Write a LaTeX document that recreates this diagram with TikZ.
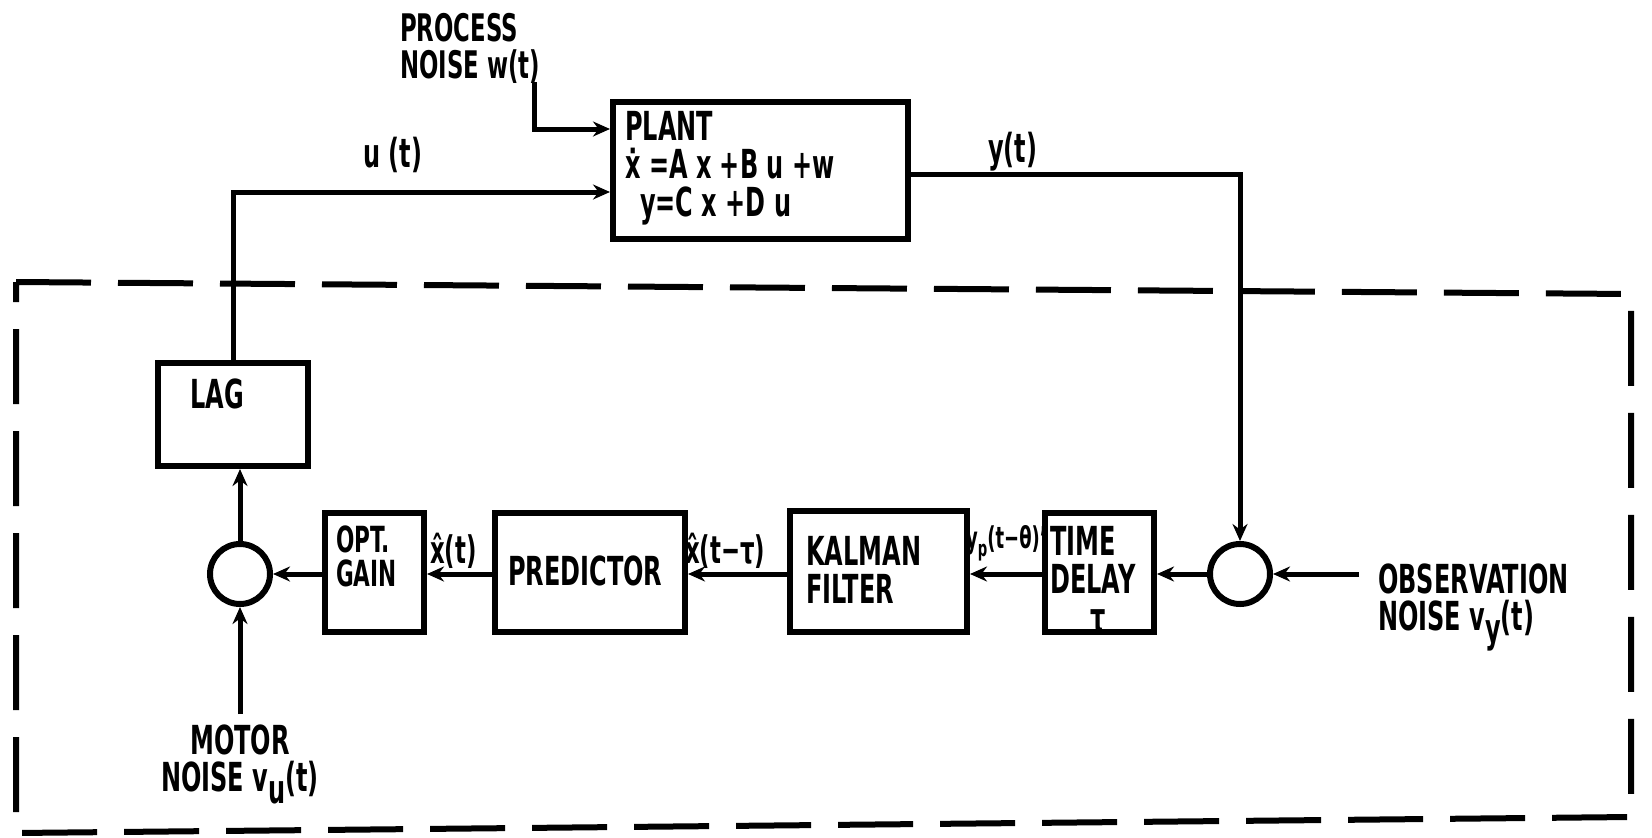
\documentclass[tikz,border=0pt]{standalone}
\usepackage{fontspec}
\setmainfont{DejaVu Sans}[FakeStretch=0.6]
\usetikzlibrary{arrows.meta}
\begin{document}
\begin{tikzpicture}[x=1pt,y=-1pt,
  blk/.style={draw,line width=6pt,inner sep=0pt},
  lbl/.style={font=\fontsize{40}{37}\selectfont\bfseries,inner sep=0pt,align=left},
  slbl/.style={font=\fontsize{38}{38}\selectfont\bfseries,inner sep=0pt},
  sig/.style={line width=5pt},
  arr/.style={sig,-{Stealth[length=17pt,width=15pt]}},
  sumc/.style={draw,circle,line width=6pt,minimum size=60pt,inner sep=0pt}]
\useasboundingbox (0,0) rectangle (1652,838);

% frame
\draw[line width=6pt,dash pattern=on 75pt off 27pt] (16,282) -- (1631,294) -- (1631,817) -- (16,833) -- cycle;

% blocks
\node[blk,minimum width=295pt,minimum height=137pt] (plant) at (760.5,170.5) {};
\node[blk,minimum width=150pt,minimum height=103pt] (lag) at (233,414.5) {};
\node[blk,minimum width=99pt,minimum height=119pt] (opt) at (374.5,572.5) {};
\node[blk,minimum width=190pt,minimum height=119pt] (pred) at (590,572.5) {};
\node[blk,minimum width=177pt,minimum height=121pt] (kal) at (878.5,571.5) {};
\node[blk,minimum width=109pt,minimum height=119pt] (td) at (1099.5,572.5) {};
\node[sumc] (cL) at (240,574) {};
\node[sumc] (cR) at (1240,574) {};

% texts
\node[lbl,anchor=north west,font=\fontsize{38}{37}\selectfont\bfseries] (tproc) at (400,13) {PROCESS\\NOISE w(t)};
\node[lbl,anchor=north west,font=\fontsize{40}{38}\selectfont\bfseries] (tplant) at (625,111) {PLANT\\\.{x} =A x +B u +w\\\ \,y=C x +D u};
\node[lbl,anchor=north west] (tu) at (363,137) {u (t)};
\node[lbl,anchor=north west] (ty) at (988,132) {y(t)};
\node[lbl,anchor=north west] (tlag) at (190,379) {LAG};
\node[lbl,anchor=north west,font=\fontsize{36}{34}\selectfont\bfseries] (topt) at (336,526) {OPT.\\GAIN};
\node[lbl,anchor=north west] (tpred) at (508,556) {PREDICTOR};
\node[lbl,anchor=north west,font=\fontsize{40}{38}\selectfont\bfseries] (tkal) at (806,536) {KALMAN\\FILTER};
\node[lbl,anchor=north west,font=\fontsize{40}{38}\selectfont\bfseries] (ttd) at (1050,526) {TIME\\DELAY\\\hspace{40pt}τ};
\node[lbl,anchor=north west] (tobs) at (1378,564) {OBSERVATION\\NOISE v\raisebox{-12pt}{y}(t)};
\node[lbl,anchor=north,align=center] (tmot) at (240,725) {MOTOR\\NOISE v\raisebox{-12pt}{u}(t)};
\node[slbl,anchor=base west] (txh) at (430,563) {\^{x}(t)};
\node[slbl,anchor=base west] (txd) at (685,563) {\^{x}(t−τ)};
\node[slbl,anchor=base west,font=\fontsize{30}{30}\selectfont\bfseries] (typ) at (966,548) {y\raisebox{-8pt}{\fontsize{22}{22}\selectfont p}(t−θ)'};

% connectors
\coordinate (wst) at (534,82);
\coordinate (wy) at (0,129);
\coordinate (uy) at (0,192);
\coordinate (yy) at (0,174);
\coordinate (obs) at (1359,574);
\coordinate (mot) at (240,714);
\draw[arr] (wst) |- (plant.west |- wy);
\draw[arr] (lag.north) |- (plant.west |- uy);
\draw[arr] (plant.east |- yy) -| (cR.north);
\draw[arr] (obs) -- (cR.east);
\draw[arr] (cR.west) -- (td.east |- cR);
\draw[arr] (td.west |- cR) -- (kal.east |- cR);
\draw[arr] (kal.west |- cR) -- (pred.east |- cR);
\draw[arr] (pred.west |- cR) -- (opt.east |- cR);
\draw[arr] (opt.west |- cL) -- (cL.east);
\draw[arr] (mot) -- (cL.south);
\draw[arr] (cL.north) -- (cL |- lag.south);
\end{tikzpicture}
\end{document}
